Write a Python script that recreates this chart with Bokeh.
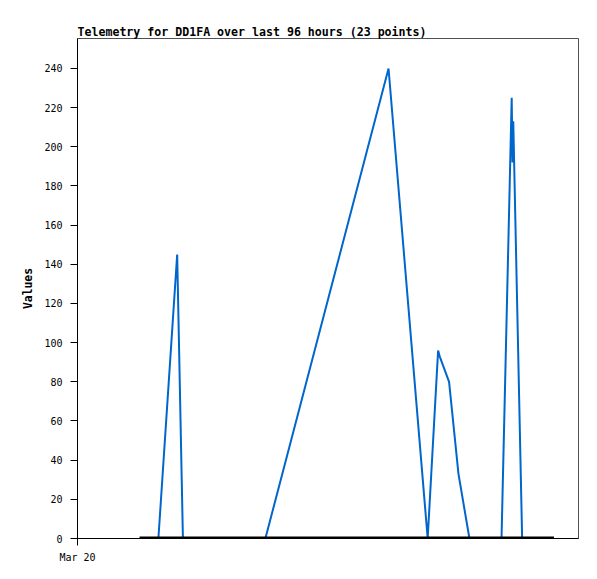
from bokeh.plotting import figure
from bokeh.models import FixedTicker, Range1d
from bokeh.embed import file_html
from bokeh.resources import INLINE

# hours since Mar 20 00:00
hours = [11.9, 15.5, 19.1, 20.2, 25.0, 30.5, 36.0, 59.6, 67.1, 69.1, 69.4, 71.2,
         73.0, 75.1, 77.5, 79.5, 81.25, 83.2, 83.35, 83.5, 85.2, 88.0, 91.3]
values = [0, 0, 145, 0, 0, 0, 0, 240, 0, 96, 93, 80,
          33, 0, 0, 0, 0, 225, 192, 213, 0, 0, 0]
baseline = [0, 0, 0, 0, 0, 0, 0, 0, 0, 0, 0, 0,
            0, 0, 0, 0, 0, 0, 0, 0, 0, 0, 0]
y_ticks = [0, 20, 40, 60, 80, 100, 120, 140, 160, 180, 200, 220, 240]
x_ticks = [0]
x_tick_labels = {0: "Mar 20"}
title_text = "Telemetry for DD1FA over last 96 hours (23 points)"

MONO = "DejaVu Sans Mono"

p = figure(width=589, height=571, output_backend="svg", toolbar_location=None,
           x_range=Range1d(0, 96), y_range=Range1d(0, 255.3),
           min_border_left=77, min_border_right=11, min_border_top=38,
           min_border_bottom=33, title=title_text)

p.background_fill_color = "white"
p.border_fill_color = "white"
p.outline_line_color = "#505050"
p.outline_line_width = 1
p.grid.visible = False

p.title.text_font = MONO
p.title.text_font_style = "bold"
p.title.text_font_size = "11.6px"
p.title.text_color = "black"
p.title.align = "left"
p.title.standoff = 0
p.title.offset = 0

p.line(hours, values, line_color="#0066CC", line_width=2)
p.line(hours, baseline, line_color="black", line_width=4)

p.yaxis.ticker = FixedTicker(ticks=y_ticks)
p.xaxis.ticker = FixedTicker(ticks=x_ticks)
p.xaxis.major_label_overrides = x_tick_labels

for ax in (p.xaxis[0], p.yaxis[0]):
    ax.axis_line_color = "black"
    ax.axis_line_width = 1
    ax.major_tick_line_color = "black"
    ax.major_tick_out = 7
    ax.major_tick_in = 0
    ax.minor_tick_out = 0
    ax.minor_tick_in = 0
    ax.major_label_text_font = MONO
    ax.major_label_text_font_size = "10px"
    ax.major_label_text_color = "black"

p.yaxis.major_label_standoff = 8
p.xaxis.major_label_standoff = 6
p.yaxis.axis_label = "Values"
p.yaxis.axis_label_text_font = MONO
p.yaxis.axis_label_text_font_style = "bold"
p.yaxis.axis_label_text_font_size = "11.4px"
p.yaxis.axis_label_text_color = "black"
p.yaxis.axis_label_standoff = 6

open("out.html", "w").write(file_html(p, INLINE))
